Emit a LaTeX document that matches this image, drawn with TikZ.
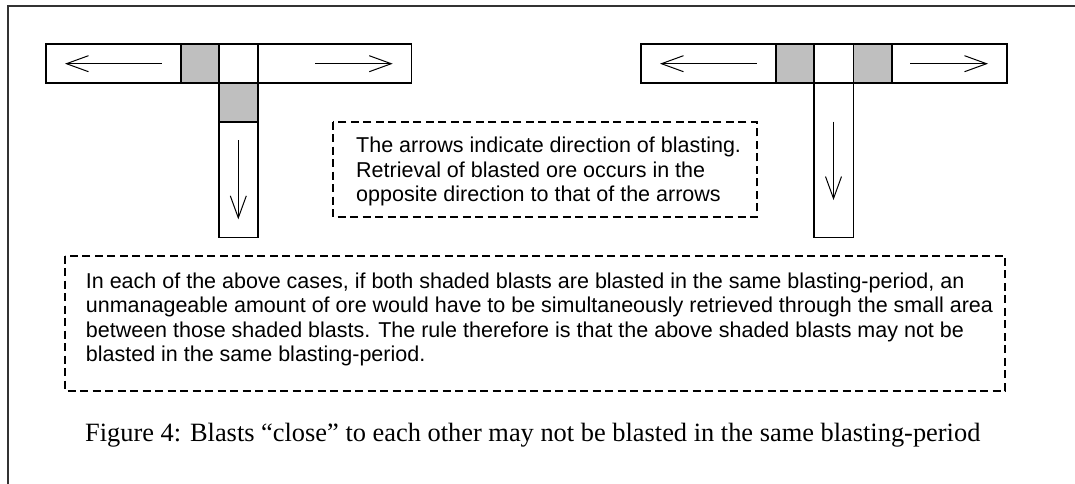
\documentclass[tikz,border=0pt]{standalone}
\usepackage{fontspec}
\setmainfont{Liberation Serif}
\newfontfamily\arialfont{Liberation Sans}
\usetikzlibrary{arrows.meta}

\begin{document}
\begin{tikzpicture}[x=1pt,y=-1pt,
  frameline/.style={line width=1.8pt,black!80},
  cell/.style={draw,line width=1.6pt,fill=white},
  shaded/.style={draw,line width=1.6pt,fill=black!25},
  blastdir/.style={line width=1pt,-{Straight Barb[length=22pt,width=16pt,line width=1pt]}},
  notebox/.style={draw,line width=1.7pt,dash pattern=on 8pt off 4.5pt},
  notetext/.style={anchor=north west,inner sep=0pt,align=left,
    font=\arialfont\fontsize{21.5}{24.5}\selectfont},
]
\useasboundingbox (0,0) rectangle (1075,484);

% outer frame (top and left edges)
\draw[frameline] (8,484) -- (8,6) -- (1075,6);

% ---- left junction: two shaded blasts ----
\draw[cell]   (45.7,44.3)  rectangle (180.7,83.3);
\draw[shaded] (180.7,44.3) rectangle (219,83.3);
\draw[cell]   (219,44.3)   rectangle (257.7,83.3);
\draw[cell]   (257.7,44.3) rectangle (411.3,83.3);
\draw[shaded] (219,83.3)   rectangle (257.7,121.7);
\draw[cell]   (219,121.7)  rectangle (257.7,237.3);

\coordinate (la1) at (161.7,63.7);  \coordinate (la2) at (65,63.7);
\coordinate (ra1) at (315,63.7);    \coordinate (ra2) at (392.7,63.7);
\coordinate (da1) at (238.3,140);   \coordinate (da2) at (238.3,219.3);
\draw[blastdir] (la1) -- (la2);
\draw[blastdir] (ra1) -- (ra2);
\draw[blastdir] (da1) -- (da2);

% ---- right junction: two shaded blasts ----
\draw[cell]   (641,44.3)   rectangle (775.7,83.3);
\draw[shaded] (775.7,44.3) rectangle (813.7,83.3);
\draw[cell]   (813.7,44.3) rectangle (853.3,83.3);
\draw[shaded] (853.3,44.3) rectangle (891.7,83.3);
\draw[cell]   (891.7,44.3) rectangle (1006.7,83.3);
\draw[cell]   (813.7,83.3) rectangle (853.3,237.3);

\coordinate (lb1) at (756.7,63.7);  \coordinate (lb2) at (660,63.7);
\coordinate (rb1) at (910,63.7);    \coordinate (rb2) at (988,63.7);
\coordinate (db1) at (833.5,121.7); \coordinate (db2) at (833.5,200);
\draw[blastdir] (lb1) -- (lb2);
\draw[blastdir] (rb1) -- (rb2);
\draw[blastdir] (db1) -- (db2);

% ---- notes ----
\draw[notebox] (333.3,121.7) rectangle (756.7,217.3);
\node[notetext] (note1) at (356,137.2)
  {The arrows indicate direction of blasting.\\
   Retrieval of blasted ore occurs in the\\
   opposite direction to that of the arrows};

\draw[notebox] (65,255.7) rectangle (1005,390.7);
\node[notetext] (note2) at (85.7,272.5)
  {In each of the above cases, if both shaded blasts are blasted in the same blasting-period, an\\
   unmanageable amount of ore would have to be simultaneously retrieved through the small area\\
   between those shaded blasts. The rule therefore is that the above shaded blasts may not be\\
   blasted in the same blasting-period.};

% ---- caption ----
\node[anchor=base west,inner sep=0pt,font=\fontsize{26.4}{30}\selectfont] (caption) at (85,441)
  {Figure 4: Blasts “close” to each other may not be blasted in the same blasting-period};
\end{tikzpicture}
\end{document}
